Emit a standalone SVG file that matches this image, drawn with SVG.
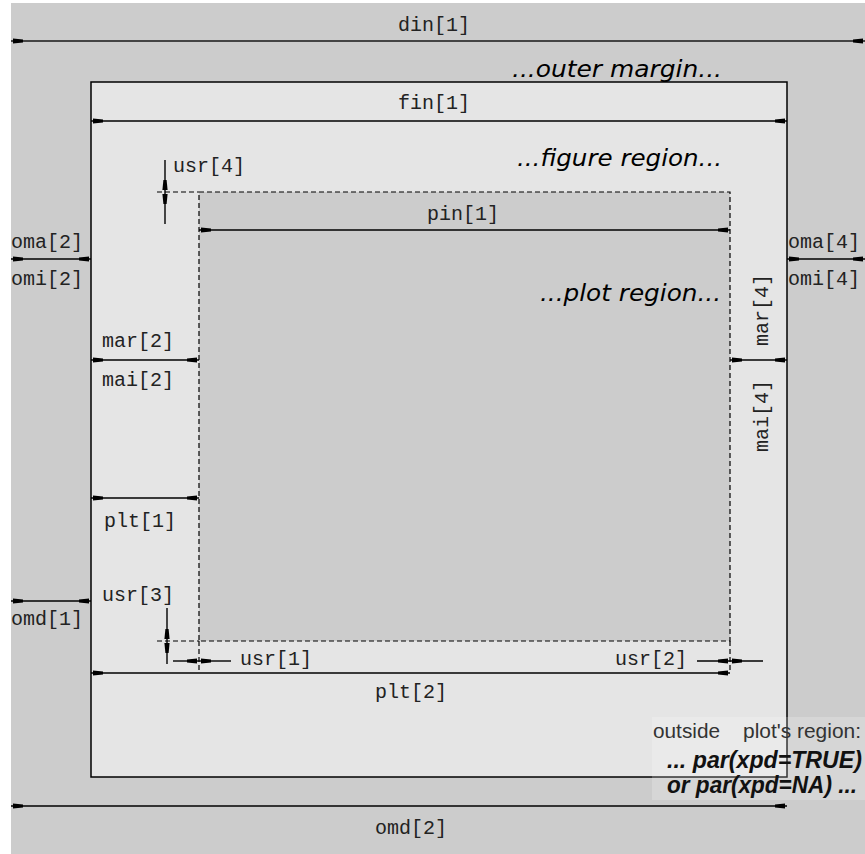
<svg xmlns="http://www.w3.org/2000/svg" width="865" height="854" viewBox="0 0 865 854">
<defs>
<style>
.mono{font-family:"Liberation Mono","DejaVu Sans Mono",monospace;font-size:20px;fill:#222}
.ital{font-family:"DejaVu Sans",sans-serif;font-style:italic;font-size:23px;fill:#000}
.sans{font-family:"Liberation Sans",Arial,sans-serif;font-size:20px;fill:#333}
.bi{font-family:"Liberation Sans",Arial,sans-serif;font-size:23px;font-weight:bold;font-style:italic;fill:#111}
.dim{stroke:#000;stroke-width:1.4;fill:none;marker-start:url(#ah);marker-end:url(#ah)}
.one{stroke:#000;stroke-width:1.4;fill:none;marker-end:url(#ah)}
.dash{stroke:#000;stroke-width:1.2;fill:none;stroke-dasharray:5,3}
</style>
<marker id="ah" markerUnits="userSpaceOnUse" viewBox="0 -4 14 8" markerWidth="14" markerHeight="8" refX="12" refY="0" orient="auto-start-reverse">
<path d="M0,-1.6 L10,-2.6 L10,2.6 L0,1.6 Z" fill="#000"/>
</marker>
</defs>
<rect x="0" y="0" width="865" height="854" fill="#ffffff"/>
<g id="outer">
<rect x="11" y="3" width="854" height="851" fill="#cccccc"/>
</g>
<g id="figure">
<rect x="91" y="82" width="696" height="695" fill="#e5e5e5" stroke="#000" stroke-width="1.5"/>
</g>
<g id="plot">
<rect x="199" y="192" width="531" height="449" fill="#cccccc" stroke="#000" stroke-width="1.2" stroke-dasharray="5,3"/>
</g>
<g id="connectors">
<line x1="11" y1="41" x2="865" y2="41" class="dim" style="stroke:#444;stroke-width:2"/>
<line x1="91" y1="121" x2="787" y2="121" class="dim"/>
<line x1="199" y1="230" x2="730" y2="230" class="dim"/>
<line x1="11" y1="259" x2="91" y2="259" class="dim"/>
<line x1="787" y1="259" x2="865" y2="259" class="dim"/>
<line x1="91" y1="360" x2="199" y2="360" class="dim"/>
<line x1="730" y1="360" x2="787" y2="360" class="dim"/>
<line x1="91" y1="498" x2="199" y2="498" class="dim"/>
<line x1="11" y1="601" x2="91" y2="601" class="dim"/>
<line x1="91" y1="673" x2="730" y2="673" class="dim"/>
<line x1="11" y1="806" x2="787" y2="806" class="dim"/>
<line x1="157" y1="192" x2="199" y2="192" class="dash"/>
<line x1="165" y1="160" x2="165" y2="192" class="one"/>
<line x1="165" y1="224" x2="165" y2="192" class="one"/>
<line x1="157" y1="641" x2="199" y2="641" class="dash"/>
<line x1="167" y1="608" x2="167" y2="641" class="one"/>
<line x1="167" y1="664" x2="167" y2="641" class="one"/>
<line x1="199" y1="641" x2="199" y2="671" class="dash"/>
<line x1="173" y1="661" x2="199" y2="661" class="one"/>
<line x1="231" y1="661" x2="199" y2="661" class="one"/>
<line x1="730" y1="641" x2="730" y2="673" class="dash"/>
<line x1="697" y1="661" x2="730" y2="661" class="one"/>
<line x1="763" y1="661" x2="730" y2="661" class="one"/>
</g>
<g id="labels">
<text class="mono" x="434" y="31" text-anchor="middle">din[1]</text>
<text class="ital" x="722" y="77" text-anchor="end" textLength="210" lengthAdjust="spacingAndGlyphs">...outer margin...</text>
<text class="mono" x="434" y="109" text-anchor="middle">fin[1]</text>
<text class="ital" x="722" y="166" text-anchor="end" textLength="205" lengthAdjust="spacingAndGlyphs">...figure region...</text>
<text class="mono" x="173" y="172">usr[4]</text>
<text class="mono" x="463" y="220" text-anchor="middle">pin[1]</text>
<text class="ital" x="721" y="301" text-anchor="end" textLength="181" lengthAdjust="spacingAndGlyphs">...plot region...</text>
<text class="mono" x="11" y="248">oma[2]</text>
<text class="mono" x="11" y="285">omi[2]</text>
<text class="mono" x="788" y="248">oma[4]</text>
<text class="mono" x="788" y="285">omi[4]</text>
<text class="mono" x="102" y="347">mar[2]</text>
<text class="mono" x="102" y="386">mai[2]</text>
<text class="mono" transform="translate(768,310) rotate(-90)" text-anchor="middle">mar[4]</text>
<text class="mono" transform="translate(768,416) rotate(-90)" text-anchor="middle">mai[4]</text>
<text class="mono" x="104" y="527">plt[1]</text>
<text class="mono" x="102" y="601">usr[3]</text>
<text class="mono" x="11" y="625">omd[1]</text>
<text class="mono" x="240" y="665">usr[1]</text>
<text class="mono" x="687" y="665" text-anchor="end">usr[2]</text>
<text class="mono" x="411" y="698" text-anchor="middle">plt[2]</text>
<text class="mono" x="411" y="834" text-anchor="middle">omd[2]</text>
</g>
<g id="note">
<rect x="652" y="717" width="213" height="83" fill="#ffffff" fill-opacity="0.2"/>
<text class="sans" x="653" y="738" textLength="67" lengthAdjust="spacingAndGlyphs">outside</text>
<text class="sans" x="861" y="738" text-anchor="end" textLength="118" lengthAdjust="spacingAndGlyphs">plot's region:</text>
<text class="bi" x="862" y="768" text-anchor="end" textLength="195" lengthAdjust="spacingAndGlyphs">... par(xpd=TRUE)</text>
<text class="bi" x="857" y="793" text-anchor="end" textLength="190" lengthAdjust="spacingAndGlyphs">or par(xpd=NA) ...</text>
</g>
</svg>
